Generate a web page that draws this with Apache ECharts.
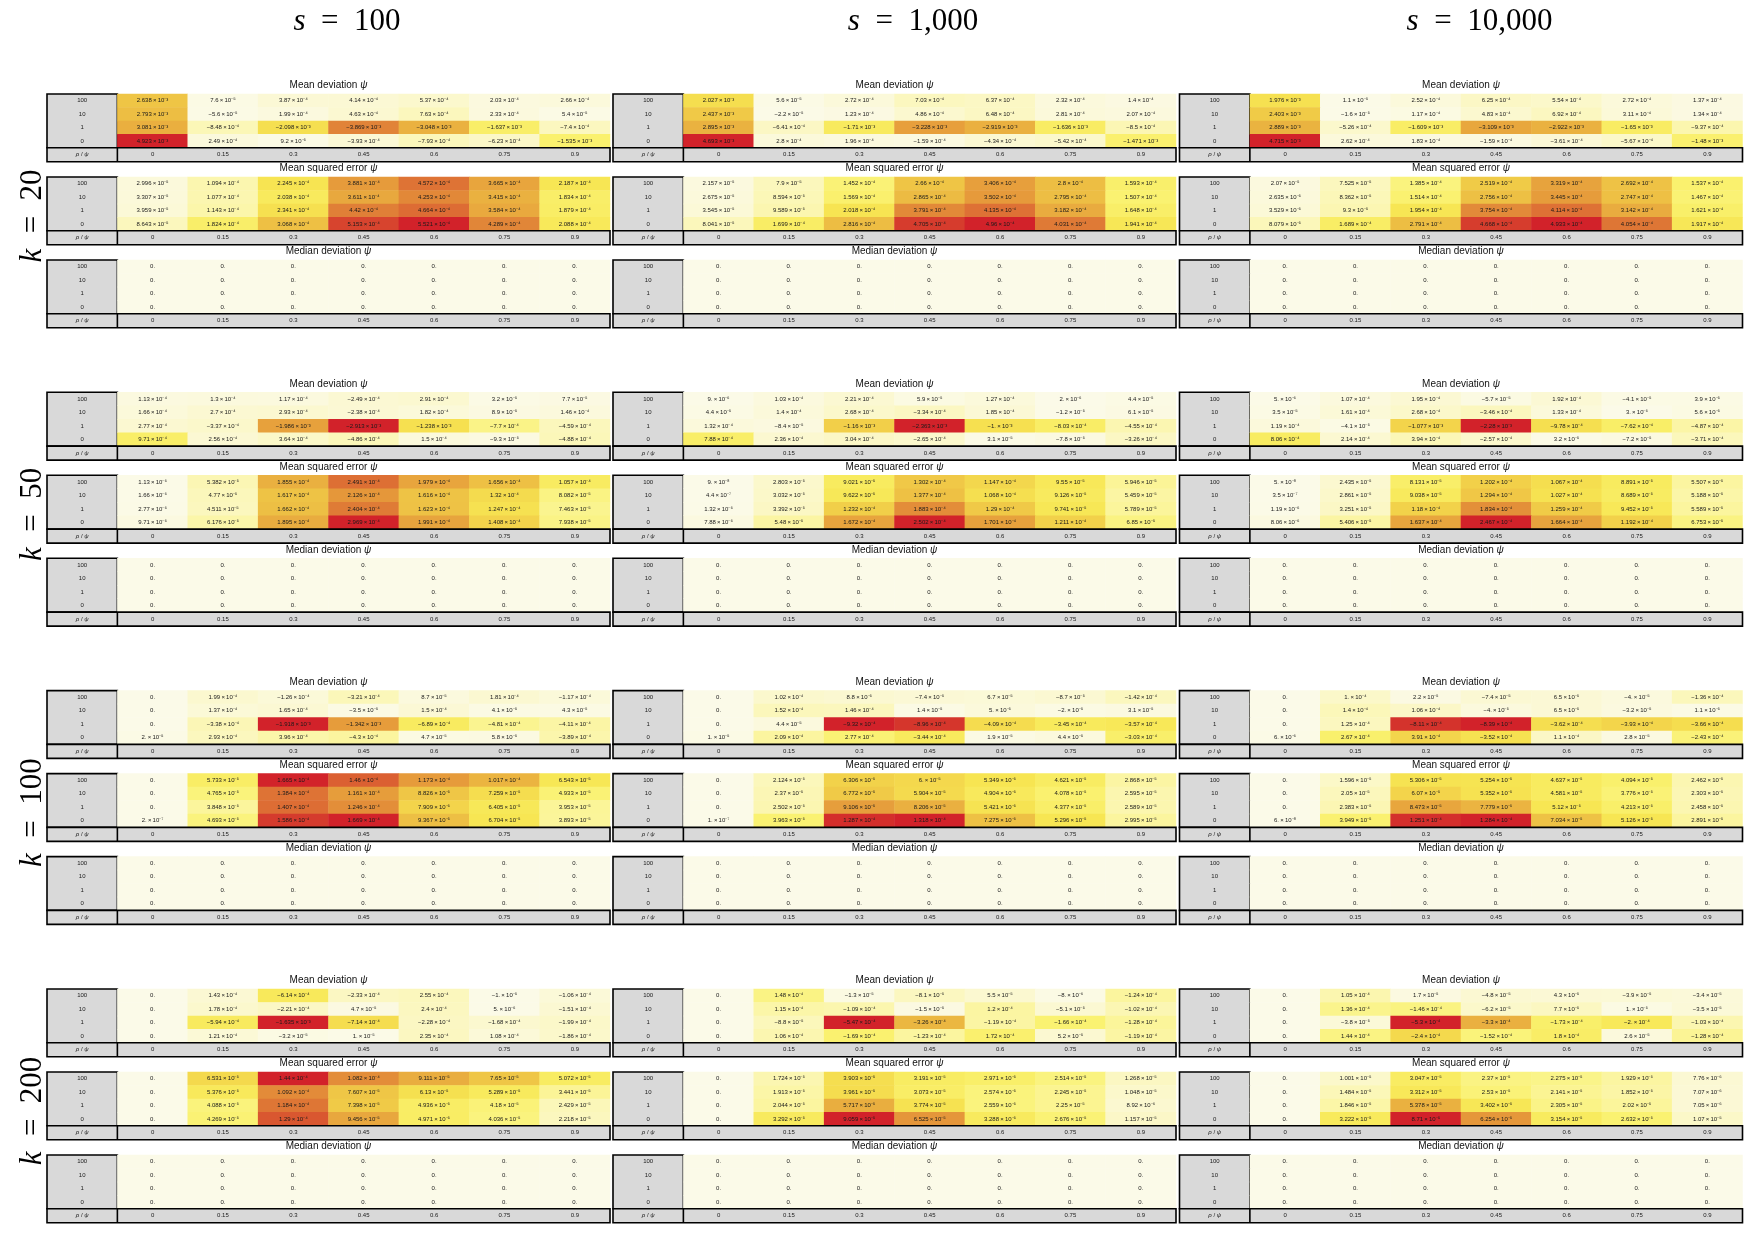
<!DOCTYPE html>
<html>
<head>
<meta charset="utf-8">
<script src="https://cdn.jsdelivr.net/npm/echarts@6/dist/echarts.min.js"></script>
<style>
html, body { margin: 0; padding: 0; background: #ffffff; }
#chart { width: 1753px; height: 1233px; }
</style>
</head>
<body>
<div id="chart"></div>
<script>
// labels
const rhoLabels = ['100', '10', '1', '0'];
const psiLabels = ['0', '0.15', '0.3', '0.45', '0.6', '0.75', '0.9'];
const sLabels = ['100', '1,000', '10,000'];
const kLabels = ['20', '50', '100', '200'];
const tableTitles = ['Mean deviation', 'Mean squared error', 'Median deviation'];

// rows: rho = 100, 10, 1, 0 ; columns: psi = 0 ... 0.9
// ---- k = 20 ----
const mdK20S100 = [
	[2.638e-3, 7.6e-5, 3.87e-4, 4.14e-4, 5.37e-4, 2.03e-4, 2.66e-4],
	[2.793e-3, -5.6e-5, 1.99e-4, 4.63e-4, 7.63e-4, 2.33e-4, 5.4e-5],
	[3.081e-3, -8.48e-4, -2.098e-3, -3.869e-3, -3.048e-3, -1.637e-3, -7.4e-4],
	[4.923e-3, 2.49e-4, 9.2e-5, -3.93e-4, -7.93e-4, -6.23e-4, -1.535e-3]
];
const mseK20S100 = [
	[2.996e-5, 1.094e-4, 2.245e-4, 3.881e-4, 4.572e-4, 3.665e-4, 2.187e-4],
	[3.307e-5, 1.077e-4, 2.038e-4, 3.611e-4, 4.253e-4, 3.415e-4, 1.834e-4],
	[3.959e-5, 1.143e-4, 2.341e-4, 4.42e-4, 4.664e-4, 3.584e-4, 1.879e-4],
	[8.643e-5, 1.824e-4, 3.068e-4, 5.153e-4, 5.521e-4, 4.289e-4, 2.088e-4]
];
const mdK20S1000 = [
	[2.027e-3, 5.6e-5, 2.72e-4, 7.03e-4, 6.37e-4, 2.32e-4, 1.4e-4],
	[2.437e-3, -2.2e-5, 1.23e-4, 4.86e-4, 6.48e-4, 2.81e-4, 2.07e-4],
	[2.895e-3, -6.41e-4, -1.71e-3, -3.228e-3, -2.919e-3, -1.636e-3, -8.5e-4],
	[4.693e-3, 2.8e-4, 1.96e-4, -1.59e-4, -4.34e-4, -5.42e-4, -1.471e-3]
];
const mseK20S1000 = [
	[2.157e-5, 7.9e-5, 1.452e-4, 2.66e-4, 3.406e-4, 2.8e-4, 1.593e-4],
	[2.675e-5, 8.594e-5, 1.569e-4, 2.865e-4, 3.502e-4, 2.795e-4, 1.507e-4],
	[3.545e-5, 9.589e-5, 2.018e-4, 3.791e-4, 4.135e-4, 3.182e-4, 1.648e-4],
	[8.041e-5, 1.699e-4, 2.816e-4, 4.705e-4, 4.96e-4, 4.031e-4, 1.941e-4]
];
const mdK20S10000 = [
	[1.976e-3, 1.1e-5, 2.52e-4, 6.25e-4, 5.54e-4, 2.72e-4, 1.37e-4],
	[2.403e-3, -1.6e-5, 1.17e-4, 4.83e-4, 6.92e-4, 3.11e-4, 1.34e-4],
	[2.889e-3, -5.26e-4, -1.609e-3, -3.109e-3, -2.922e-3, -1.65e-3, -9.37e-4],
	[4.715e-3, 2.62e-4, 1.83e-4, -1.59e-4, -3.61e-4, -5.67e-4, -1.48e-3]
];
const mseK20S10000 = [
	[2.07e-5, 7.525e-5, 1.385e-4, 2.519e-4, 3.319e-4, 2.692e-4, 1.537e-4],
	[2.635e-5, 8.362e-5, 1.514e-4, 2.756e-4, 3.445e-4, 2.747e-4, 1.467e-4],
	[3.529e-5, 9.3e-5, 1.954e-4, 3.754e-4, 4.114e-4, 3.142e-4, 1.621e-4],
	[8.079e-5, 1.689e-4, 2.791e-4, 4.668e-4, 4.933e-4, 4.054e-4, 1.917e-4]
];
// ---- k = 50 ----
const mdK50S100 = [
	[1.13e-4, 1.3e-4, 1.17e-4, -2.49e-4, 2.91e-4, 3.2e-5, 7.7e-5],
	[1.66e-4, 2.7e-4, 2.93e-4, -2.38e-4, 1.82e-4, 8.9e-5, 1.46e-4],
	[2.77e-4, -3.37e-4, -1.986e-3, -2.913e-3, -1.238e-3, -7.7e-4, -4.59e-4],
	[9.71e-4, 2.56e-4, 3.64e-4, -4.86e-4, 1.5e-4, -9.3e-5, -4.88e-4]
];
const mseK50S100 = [
	[1.13e-6, 5.382e-5, 1.855e-4, 2.491e-4, 1.979e-4, 1.656e-4, 1.057e-4],
	[1.66e-6, 4.77e-5, 1.617e-4, 2.126e-4, 1.616e-4, 1.32e-4, 8.082e-5],
	[2.77e-6, 4.511e-5, 1.662e-4, 2.404e-4, 1.623e-4, 1.247e-4, 7.463e-5],
	[9.71e-6, 6.176e-5, 1.895e-4, 2.969e-4, 1.991e-4, 1.408e-4, 7.938e-5]
];
const mdK50S1000 = [
	[9e-6, 1.03e-4, 2.21e-4, 5.9e-5, 1.27e-4, 2e-6, 4.4e-5],
	[4.4e-5, 1.4e-4, 2.68e-4, -3.34e-4, 1.85e-4, -1.2e-5, 6.1e-5],
	[1.32e-4, -8.4e-5, -1.16e-3, -2.363e-3, -1e-3, -8.03e-4, -4.55e-4],
	[7.88e-4, 2.36e-4, 3.04e-4, -2.65e-4, 3.1e-5, -7.8e-5, -3.26e-4]
];
const mseK50S1000 = [
	[9e-8, 2.803e-5, 9.021e-5, 1.302e-4, 1.147e-4, 9.55e-5, 5.946e-5],
	[4.4e-7, 3.032e-5, 9.622e-5, 1.377e-4, 1.068e-4, 9.126e-5, 5.459e-5],
	[1.32e-6, 3.392e-5, 1.232e-4, 1.883e-4, 1.29e-4, 9.741e-5, 5.789e-5],
	[7.88e-6, 5.48e-5, 1.672e-4, 2.502e-4, 1.701e-4, 1.211e-4, 6.85e-5]
];
const mdK50S10000 = [
	[5e-6, 1.07e-4, 1.95e-4, -5.7e-5, 1.92e-4, -4.1e-5, 3.9e-5],
	[3.5e-5, 1.61e-4, 2.68e-4, -3.46e-4, 1.33e-4, 3e-6, 5.6e-5],
	[1.19e-4, -4.1e-5, -1.077e-3, -2.28e-3, -9.78e-4, -7.62e-4, -4.87e-4],
	[8.06e-4, 2.14e-4, 3.94e-4, -2.57e-4, 3.2e-5, -7.2e-5, -3.71e-4]
];
const mseK50S10000 = [
	[5e-8, 2.435e-5, 8.131e-5, 1.202e-4, 1.067e-4, 8.891e-5, 5.507e-5],
	[3.5e-7, 2.861e-5, 9.038e-5, 1.294e-4, 1.027e-4, 8.689e-5, 5.188e-5],
	[1.19e-6, 3.251e-5, 1.18e-4, 1.834e-4, 1.259e-4, 9.452e-5, 5.589e-5],
	[8.06e-6, 5.406e-5, 1.637e-4, 2.467e-4, 1.664e-4, 1.192e-4, 6.753e-5]
];
// ---- k = 100 ----
const mdK100S100 = [
	[0, 1.99e-4, -1.26e-4, -3.21e-4, 8.7e-5, 1.81e-4, -1.17e-4],
	[0, 1.37e-4, 1.65e-4, -3.5e-5, 1.5e-4, 4.1e-5, 4.3e-5],
	[0, -3.38e-4, -1.918e-3, -1.342e-3, -6.89e-4, -4.81e-4, -4.11e-4],
	[2e-5, 2.93e-4, 3.96e-4, -4.3e-4, 4.7e-5, 5.8e-5, -3.89e-4]
];
const mseK100S100 = [
	[0, 5.733e-5, 1.665e-4, 1.46e-4, 1.173e-4, 1.017e-4, 6.543e-5],
	[0, 4.765e-5, 1.384e-4, 1.161e-4, 8.826e-5, 7.259e-5, 4.933e-5],
	[0, 3.848e-5, 1.407e-4, 1.246e-4, 7.909e-5, 6.405e-5, 3.953e-5],
	[2e-7, 4.693e-5, 1.586e-4, 1.669e-4, 9.367e-5, 6.704e-5, 3.893e-5]
];
const mdK100S1000 = [
	[0, 1.02e-4, 8.8e-5, -7.4e-5, 6.7e-5, -8.7e-5, -1.42e-4],
	[0, 1.52e-4, 1.46e-4, 1.4e-5, 5e-5, -2e-5, 3.1e-5],
	[0, 4.4e-5, -9.32e-4, -8.96e-4, -4.09e-4, -3.45e-4, -3.57e-4],
	[1e-5, 2.09e-4, 2.77e-4, -3.44e-4, 1.9e-5, 4.4e-5, -3.03e-4]
];
const mseK100S1000 = [
	[0, 2.124e-5, 6.306e-5, 6e-5, 5.349e-5, 4.621e-5, 2.868e-5],
	[0, 2.37e-5, 6.772e-5, 5.904e-5, 4.904e-5, 4.078e-5, 2.595e-5],
	[0, 2.502e-5, 9.106e-5, 8.206e-5, 5.421e-5, 4.377e-5, 2.589e-5],
	[1e-7, 3.963e-5, 1.287e-4, 1.318e-4, 7.275e-5, 5.296e-5, 2.995e-5]
];
const mdK100S10000 = [
	[0, 1e-4, 2.2e-5, -7.4e-5, 6.5e-5, -4e-5, -1.36e-4],
	[0, 1.4e-4, 1.06e-4, -4e-5, 6.5e-5, -3.2e-5, 1.1e-5],
	[0, 1.25e-4, -8.11e-4, -8.39e-4, -3.62e-4, -3.93e-4, -3.66e-4],
	[6e-6, 2.67e-4, 3.91e-4, -3.52e-4, 1.1e-4, 2.8e-5, -2.43e-4]
];
const mseK100S10000 = [
	[0, 1.596e-5, 5.306e-5, 5.254e-5, 4.637e-5, 4.094e-5, 2.462e-5],
	[0, 2.05e-5, 6.07e-5, 5.352e-5, 4.581e-5, 3.776e-5, 2.303e-5],
	[0, 2.383e-5, 8.473e-5, 7.779e-5, 5.12e-5, 4.213e-5, 2.458e-5],
	[6e-8, 3.949e-5, 1.251e-4, 1.284e-4, 7.034e-5, 5.126e-5, 2.891e-5]
];
// ---- k = 200 ----
const mdK200S100 = [
	[0, 1.43e-4, -6.14e-4, -2.33e-4, 2.55e-4, -1e-5, -1.06e-4],
	[0, 1.78e-4, -2.21e-4, 4.7e-5, 2.4e-4, 5e-6, -1.51e-4],
	[0, -5.94e-4, -1.635e-3, -7.14e-4, -2.28e-4, -1.68e-4, -1.99e-4],
	[0, 1.21e-4, -3.2e-5, 1e-5, 2.35e-4, 1.08e-4, -1.86e-4]
];
const mseK200S100 = [
	[0, 6.531e-5, 1.44e-4, 1.082e-4, 9.111e-5, 7.65e-5, 5.072e-5],
	[0, 5.376e-5, 1.092e-4, 7.607e-5, 6.13e-5, 5.289e-5, 3.441e-5],
	[0, 4.088e-5, 1.184e-4, 7.398e-5, 4.936e-5, 4.18e-5, 2.429e-5],
	[0, 4.269e-5, 1.29e-4, 9.456e-5, 4.971e-5, 4.036e-5, 2.218e-5]
];
const mdK200S1000 = [
	[0, 1.48e-4, -1.3e-5, -8.1e-5, 5.5e-5, -8e-6, -1.24e-4],
	[0, 1.15e-4, -1.09e-4, -1.5e-5, 1.2e-4, -5.1e-5, -1.02e-4],
	[0, -8.8e-5, -5.47e-4, -3.26e-4, -1.19e-4, -1.66e-4, -1.28e-4],
	[0, 1.06e-4, -1.69e-4, -1.23e-4, 1.72e-4, 5.2e-5, -1.19e-4]
];
const mseK200S1000 = [
	[0, 1.724e-5, 3.903e-5, 3.191e-5, 2.971e-5, 2.514e-5, 1.268e-5],
	[0, 1.913e-5, 3.961e-5, 3.073e-5, 2.574e-5, 2.245e-5, 1.048e-5],
	[0, 2.044e-5, 5.717e-5, 3.774e-5, 2.559e-5, 2.25e-5, 8.92e-6],
	[0, 3.292e-5, 9.059e-5, 6.525e-5, 3.288e-5, 2.676e-5, 1.157e-5]
];
const mdK200S10000 = [
	[0, 1.05e-4, 1.7e-5, -4.8e-5, 4.3e-5, -3.9e-5, -3.4e-5],
	[0, 1.36e-4, -1.46e-4, -6.2e-5, 7.7e-5, 1e-5, -3.5e-5],
	[0, -3.8e-5, -5.3e-4, -3.3e-4, -1.73e-4, -2e-4, -1.03e-4],
	[0, 1.44e-4, -2.4e-4, -1.52e-4, 1.8e-4, 2.6e-5, -1.28e-4]
];
const mseK200S10000 = [
	[0, 1.001e-5, 3.047e-5, 2.37e-5, 2.275e-5, 1.929e-5, 7.76e-6],
	[0, 1.484e-5, 3.312e-5, 2.53e-5, 2.141e-5, 1.852e-5, 7.07e-6],
	[0, 1.846e-5, 5.378e-5, 3.402e-5, 2.305e-5, 2.02e-5, 7.05e-6],
	[0, 3.222e-5, 8.71e-5, 6.254e-5, 3.154e-5, 2.632e-5, 1.07e-5]
];
// every median deviation table in the figure reads 0.
const medianDev = [
	[0, 0, 0, 0, 0, 0, 0],
	[0, 0, 0, 0, 0, 0, 0],
	[0, 0, 0, 0, 0, 0, 0],
	[0, 0, 0, 0, 0, 0, 0]
];

// [k][s]
const meanDevTables = [
	[mdK20S100, mdK20S1000, mdK20S10000],
	[mdK50S100, mdK50S1000, mdK50S10000],
	[mdK100S100, mdK100S1000, mdK100S10000],
	[mdK200S100, mdK200S1000, mdK200S10000]
];
const mseTables = [
	[mseK20S100, mseK20S1000, mseK20S10000],
	[mseK50S100, mseK50S1000, mseK50S10000],
	[mseK100S100, mseK100S1000, mseK100S10000],
	[mseK200S100, mseK200S1000, mseK200S10000]
];

// layout
const colX = [47, 613, 1179.5];
const blockTop = [94, 392.3, 690.6, 989];
const tableGap = 83;
const tableW = 563;
const cellW = tableW / 8;
const rowH = 13.45;
const footH = 14;
const sansFont = 'Liberation Sans';
const serifFont = 'Liberation Serif';
const cellFont = 6;
const headFont = 31;

const heatColors = ['#fbfae8', '#fbf8d0', '#fbf6ae', '#faf272', '#f7e653', '#f1cd48',
	'#ebb641', '#e69c3b', '#e07f37', '#d95530', '#d2222a'];

const SUP = { '-': '\u207B', '0': '\u2070', '1': '\u00B9', '2': '\u00B2', '3': '\u00B3',
	'4': '\u2074', '5': '\u2075', '6': '\u2076', '7': '\u2077', '8': '\u2078', '9': '\u2079' };

function sci(v) {
	if (v === 0) return '0.';
	let a = Math.abs(v);
	let e = Math.floor(Math.log10(a));
	let m = a / Math.pow(10, e);
	if (m >= 9.99995) { m /= 10; e += 1; }
	if (m < 0.99995) { m *= 10; e -= 1; }
	let ms = String(parseFloat(m.toFixed(3)));
	if (ms.indexOf('.') < 0) ms += '.';
	let ex = String(e).split('').map(c => SUP[c]).join('');
	return (v < 0 ? '\u2212' : '') + ms + '\u2009\u00D7\u200910' + ex;
}

let grids = [], xAxes = [], yAxes = [], series = [], visualMaps = [], graphics = [];

function addTable(x0, top, title, values) {
	let idx = grids.length;
	let cells = [];
	let maxAbs = 0;
	for (let r = 0; r < values.length; r++) {
		for (let c = 0; c < values[r].length; c++) {
			let v = values[r][c];
			cells.push([c, r, Math.abs(v), v]);
			maxAbs = Math.max(maxAbs, Math.abs(v));
		}
	}
	grids.push({
		left: x0 + cellW, top: top, width: 7 * cellW, height: 4 * rowH,
		containLabel: false, outerBoundsMode: 'none'
	});
	xAxes.push({
		gridIndex: idx, type: 'category', data: psiLabels, position: 'bottom', z: 10,
		axisLine: { show: false }, axisTick: { show: false }, splitLine: { show: false },
		axisLabel: { interval: 0, margin: footH / 2, verticalAlign: 'middle', fontSize: cellFont, fontFamily: sansFont, color: '#1a1a1a' }
	});
	yAxes.push({
		gridIndex: idx, type: 'category', data: rhoLabels, inverse: true, z: 10,
		axisLine: { show: false }, axisTick: { show: false }, splitLine: { show: false },
		axisLabel: { interval: 0, margin: cellW / 2, align: 'center', fontSize: cellFont, fontFamily: sansFont, color: '#1a1a1a' }
	});
	visualMaps.push({
		type: 'continuous', show: false, seriesIndex: idx, dimension: 2,
		min: 0, max: maxAbs || 1, inRange: { color: heatColors }
	});
	series.push({
		type: 'heatmap', xAxisIndex: idx, yAxisIndex: idx, data: cells,
		itemStyle: { borderWidth: 0 },
		emphasis: { disabled: true },
		label: {
			show: true, fontSize: cellFont, fontFamily: sansFont, color: '#1a1a1a',
			formatter: p => sci(p.value[3])
		}
	});
	// label column and footer frames
	graphics.push({
		type: 'rect', z: 1, silent: true,
		shape: { x: x0, y: top, width: cellW, height: 4 * rowH },
		style: { fill: '#d9d9d9', stroke: '#000', lineWidth: 1.6 }
	});
	graphics.push({
		type: 'rect', z: 4, silent: true,
		shape: { x: x0, y: top + 4 * rowH, width: tableW, height: footH },
		style: { fill: '#d9d9d9', stroke: '#000', lineWidth: 1.6 }
	});
	graphics.push({
		type: 'line', z: 5, silent: true,
		shape: { x1: x0 + cellW, y1: top + 4 * rowH, x2: x0 + cellW, y2: top + 4 * rowH + footH },
		style: { stroke: '#000', lineWidth: 1.6 }
	});
	graphics.push({
		type: 'text', z: 11, silent: true,
		x: x0 + cellW / 2, y: top + 4 * rowH + footH / 2,
		style: {
			text: '{i|\u03C1} / {i|\u03C8}', align: 'center', verticalAlign: 'middle',
			fontSize: cellFont, fontFamily: sansFont, fill: '#1a1a1a',
			rich: { i: { fontStyle: 'italic', fontSize: cellFont, fontFamily: sansFont, color: '#1a1a1a' } }
		}
	});
	graphics.push({
		type: 'text', z: 11, silent: true,
		x: x0 + tableW / 2, y: top - 8.5,
		style: {
			text: title + ' {i|\u03C8}', align: 'center', verticalAlign: 'middle',
			fontSize: 10, fontFamily: sansFont, fill: '#111',
			rich: { i: { fontStyle: 'italic', fontSize: 10, fontFamily: sansFont, color: '#111' } }
		}
	});
}

for (let ki = 0; ki < kLabels.length; ki++) {
	for (let si = 0; si < sLabels.length; si++) {
		let tables = [meanDevTables[ki][si], mseTables[ki][si], medianDev];
		for (let t = 0; t < 3; t++) {
			addTable(colX[si], blockTop[ki] + t * tableGap, tableTitles[t], tables[t]);
		}
	}
}

// column headings
for (let si = 0; si < sLabels.length; si++) {
	graphics.push({
		type: 'text', z: 11, silent: true,
		x: colX[si] + 300, y: 22,
		style: {
			text: '{i|s}\u2002=\u2002' + sLabels[si], align: 'center', verticalAlign: 'middle',
			fontSize: headFont, fontFamily: serifFont, fill: '#000',
			rich: { i: { fontStyle: 'italic', fontSize: headFont, fontFamily: serifFont, color: '#000' } }
		}
	});
}
// row headings
for (let ki = 0; ki < kLabels.length; ki++) {
	graphics.push({
		type: 'text', z: 11, silent: true,
		x: 33, y: blockTop[ki] + 122, rotation: Math.PI / 2,
		style: {
			text: '{i|k}\u2002=\u2002' + kLabels[ki], align: 'center', verticalAlign: 'middle',
			fontSize: headFont, fontFamily: serifFont, fill: '#000',
			rich: { i: { fontStyle: 'italic', fontSize: headFont, fontFamily: serifFont, color: '#000' } }
		}
	});
}

let chart = echarts.init(document.getElementById('chart'), null, { renderer: 'canvas' });
chart.setOption({
	backgroundColor: '#ffffff',
	animation: false,
	grid: grids,
	xAxis: xAxes,
	yAxis: yAxes,
	visualMap: visualMaps,
	series: series,
	graphic: { elements: graphics }
});
</script>
</body>
</html>
